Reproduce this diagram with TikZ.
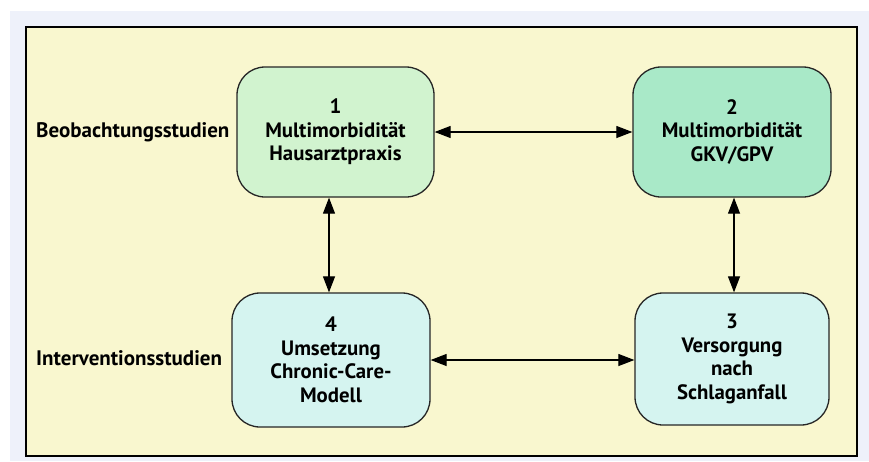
\documentclass[tikz,border=0pt]{standalone}
\usepackage{fontspec}
\setmainfont{PT Sans}
\usetikzlibrary{arrows.meta}
\definecolor{bgouter}{HTML}{EEF1FA}
\definecolor{bgyellow}{HTML}{F9F7CF}
\definecolor{cgreen}{HTML}{D1F3CF}
\definecolor{cmint}{HTML}{A9E9C8}
\definecolor{ccyan}{HTML}{D5F4F0}
\tikzset{
  x=1pt,y=-1pt,
  studybox/.style={draw=black!85,line width=1.3pt,rounded corners=28pt,align=center,
    font=\bfseries\fontsize{20.8}{23.5}\selectfont,inner sep=0pt},
  rowlabel/.style={font=\bfseries\fontsize{21}{23}\selectfont,anchor=west,inner sep=0pt},
  link/.style={line width=1.1pt,{Triangle[length=16pt,width=12pt]}-{Triangle[length=16pt,width=12pt]}},
}
\begin{document}
\begin{tikzpicture}
\useasboundingbox (0,0) rectangle (869,461);
\fill[white] (0,0) rectangle (869,461);
\fill[bgouter] (10,11) rectangle (869,461);
\draw[line width=1.3pt,fill=bgyellow] (26,27) rectangle (857,456);
\node[studybox,fill=cgreen,minimum width=197pt,minimum height=130pt] (b1) at (335.5,132) {1\\Multimorbidität\\Hausarztpraxis};
\node[studybox,fill=cmint,minimum width=198pt,minimum height=130pt] (b2) at (732,132) {2\\Multimorbidität\\GKV/GPV};
\node[studybox,fill=ccyan,minimum width=198pt,minimum height=134pt] (b4) at (331,360) {4\\Umsetzung\\Chronic-Care-\\Modell};
\node[studybox,fill=ccyan,minimum width=194pt,minimum height=132pt] (b3) at (732,359) {3\\Versorgung\\nach\\Schlaganfall};
\node[rowlabel] (l1) at (36,132) {Beobachtungsstudien};
\node[rowlabel] (l2) at (36,358) {Interventionsstudien};
\coordinate (ht) at (0,132);
\coordinate (hb) at (0,360);
\coordinate (vl) at (329,0);
\coordinate (vr) at (734,0);
\draw[link] (b1.east |- ht) -- (b2.west |- ht);
\draw[link] (b4.east |- hb) -- (b3.west |- hb);
\draw[link] (b1.south -| vl) -- (b4.north -| vl);
\draw[link] (b2.south -| vr) -- (b3.north -| vr);
\end{tikzpicture}
\end{document}
